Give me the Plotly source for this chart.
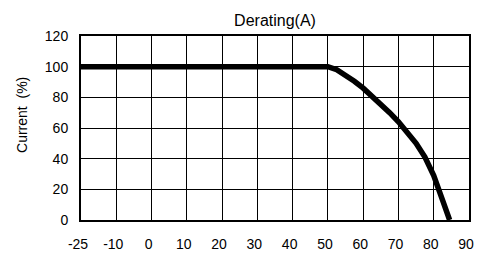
import numpy as np
import plotly.graph_objects as go

# Tick labels on the (equally spaced) temperature axis
x_tick_labels = [-25, -10, 0, 10, 20, 30, 40, 50, 60, 70, 80, 90]
y_ticks = [0, 20, 40, 60, 80, 100, 120]

# Derating curve: ambient temperature (°C) vs. current (%)
temperature = [-25, 50, 52.5, 55, 57.5, 60, 62.5, 65, 67.5, 70, 72.5, 75, 77.5, 80, 82.5, 84.5]
current_pct = [100, 100, 98, 94.5, 90.5, 86, 81, 75.5, 70, 64, 57.5, 50, 41, 29, 13, 0]

# Axis uses equally spaced ticks; map temperatures onto tick positions
tick_pos = np.arange(len(x_tick_labels))
x_pos = np.interp(temperature, x_tick_labels, tick_pos)

fig = go.Figure()
fig.add_trace(go.Scatter(
    x=x_pos, y=current_pct, mode="lines",
    line=dict(color="black", width=5.5),
    showlegend=False, hoverinfo="skip",
))

font = dict(family="Liberation Sans, Arial, sans-serif", color="black", size=14)

# the page body adds an 8px margin; figure is sized to fit the window
fig.update_layout(
    width=475, height=243,
    margin=dict(l=73, r=14, t=28, b=31),
    paper_bgcolor="white", plot_bgcolor="white",
    font=font,
    title=dict(text="Derating(A)", xref="paper", x=0.5, xanchor="center",
               y=0.951, yanchor="middle",
               font=dict(size=16, family="Liberation Sans, Arial, sans-serif", color="black")),
    annotations=[dict(text="Current  (%)", textangle=-90, xref="paper", yref="paper",
                      x=-0.152, y=0.571, xanchor="center", yanchor="middle",
                      showarrow=False, font=dict(size=14))],
)
fig.update_xaxes(
    range=[0, len(x_tick_labels) - 1], automargin=False,
    tickmode="array", tickvals=tick_pos, ticktext=[str(v) for v in x_tick_labels],
    showgrid=True, gridcolor="black", gridwidth=1,
    showline=True, linecolor="black", linewidth=2, mirror=True,
    ticks="outside", ticklen=10, tickcolor="rgba(0,0,0,0)",
    ticklabeloverflow="allow", ticklabelshift=-3,
    zeroline=False,
)
fig.update_yaxes(
    range=[0, 120], automargin=False,
    tickmode="array", tickvals=y_ticks,
    showgrid=True, gridcolor="black", gridwidth=1,
    showline=True, linecolor="black", linewidth=2, mirror=True,
    ticks="outside", ticklen=8, tickcolor="rgba(0,0,0,0)",
    zeroline=False,
)

fig.write_html("out.html")
